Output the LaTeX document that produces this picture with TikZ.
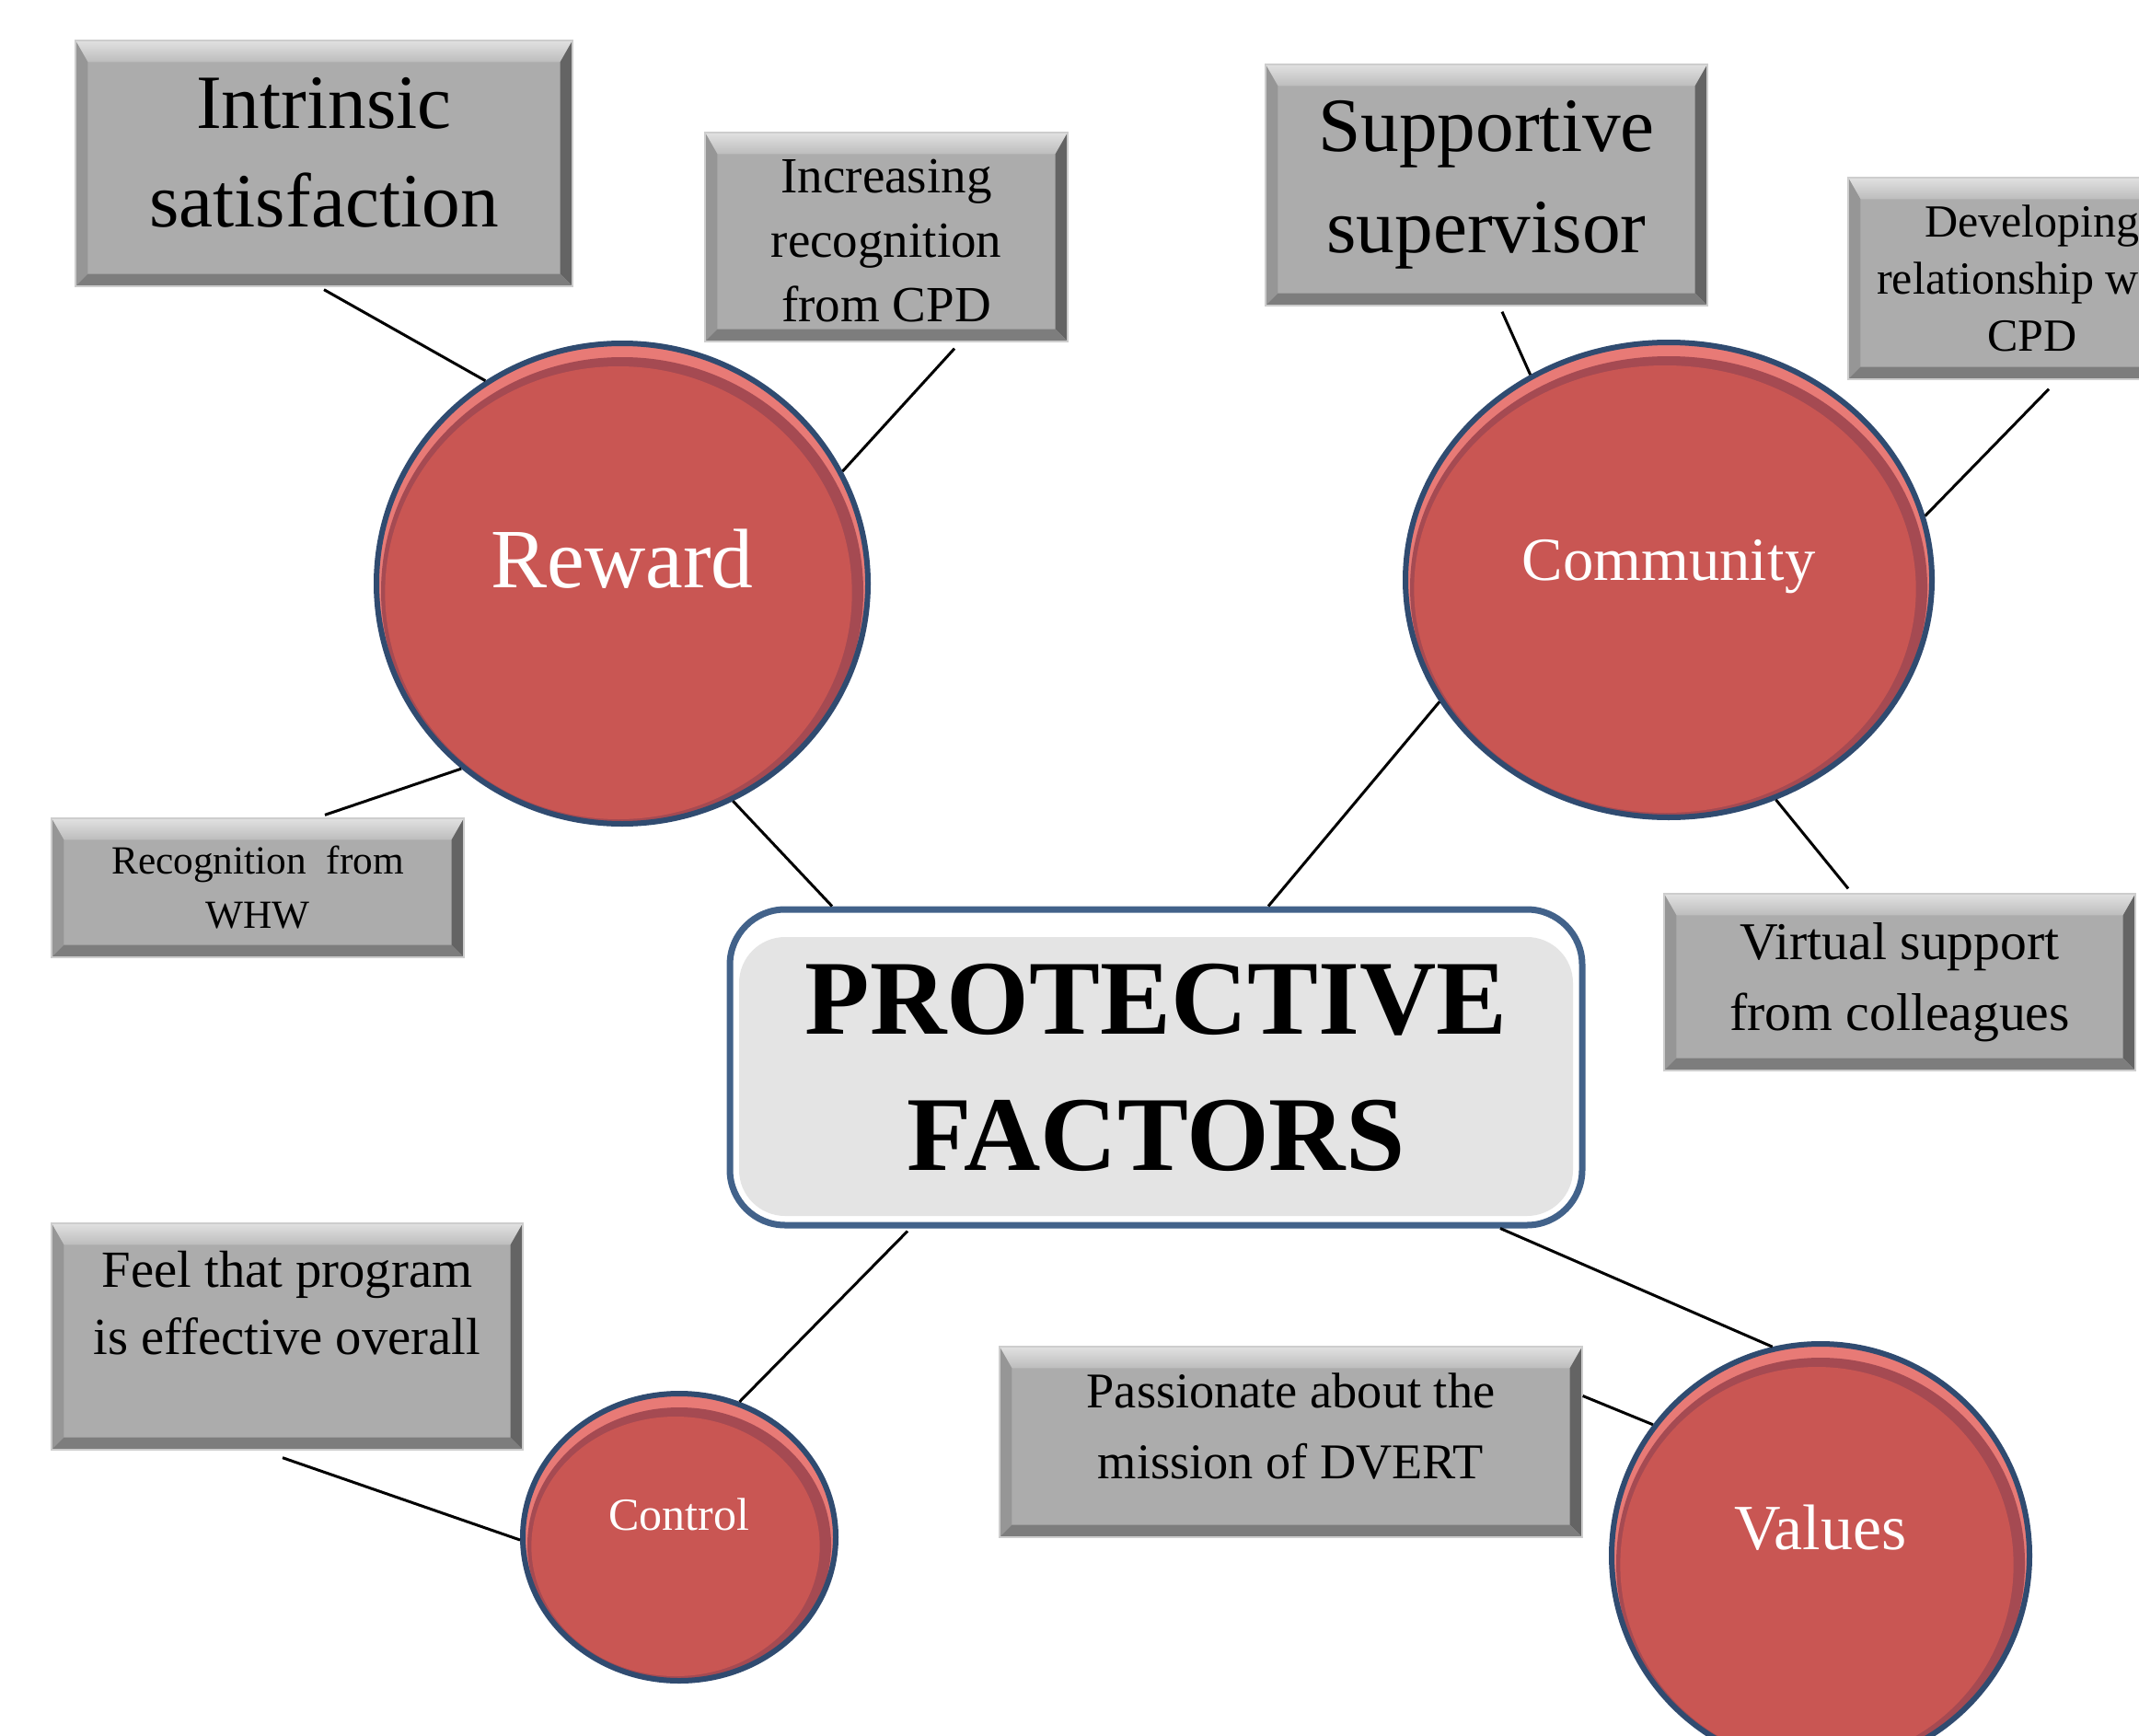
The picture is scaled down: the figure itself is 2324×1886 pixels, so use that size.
\documentclass[tikz,border=0pt]{standalone}
\usepackage{fontspec}
\setmainfont{Liberation Serif}
\usetikzlibrary{calc,shapes.geometric}

\definecolor{boxgray}{RGB}{172,172,172}
\definecolor{bevlight}{RGB}{225,225,225}
\definecolor{bevleft}{RGB}{150,150,150}
\definecolor{bevright}{RGB}{100,100,100}
\definecolor{bevbottom}{RGB}{125,125,125}
\definecolor{circred}{RGB}{201,86,83}
\definecolor{circhl}{RGB}{232,122,118}
\definecolor{circdark}{RGB}{165,74,82}
\definecolor{circedge}{RGB}{48,75,112}
\definecolor{pfedge}{RGB}{66,98,138}
\definecolor{pffill}{RGB}{228,228,228}

\tikzset{
  gbox/.style={rectangle, fill=boxgray, draw=boxgray!60, line width=0.4pt,
    inner sep=0pt, align=center, text=black,
    path picture={
      \path (path picture bounding box.north west) coordinate (bnw)
            (path picture bounding box.north east) coordinate (bne)
            (path picture bounding box.south west) coordinate (bsw)
            (path picture bounding box.south east) coordinate (bse);
      \shade[top color=bevlight, bottom color=boxgray!80!white]
        (bnw) -- (bne) -- ($(bne)+(-4pt,-7pt)$) -- ($(bnw)+(4pt,-7pt)$) -- cycle;
      \fill[bevleft] (bnw) -- ($(bnw)+(4pt,-7pt)$) -- ($(bsw)+(4pt,4pt)$) -- (bsw) -- cycle;
      \fill[bevright] (bne) -- ($(bne)+(-4pt,-7pt)$) -- ($(bse)+(-4pt,4pt)$) -- (bse) -- cycle;
      \fill[bevbottom] (bsw) -- ($(bsw)+(4pt,4pt)$) -- ($(bse)+(-4pt,4pt)$) -- (bse) -- cycle;
    }},
  circ/.style={ellipse, fill=circhl, draw=circedge, line width=1.8pt,
    inner sep=0pt,
    path picture={
      \fill[circdark] let \p1=(path picture bounding box.north east),
                \p2=(path picture bounding box.center) in
        ([yshift=-2.5pt]\x2,\y2) ellipse ({\x1-\x2-1.5pt} and {\y1-\y2-2pt});
      \fill[circred] let \p1=(path picture bounding box.north east),
                \p2=(path picture bounding box.center) in
        ([xshift=-1.2pt,yshift=-3pt]\x2,\y2) ellipse ({\x1-\x2-4pt} and {\y1-\y2-4.5pt});
    }},
  pfbox/.style={rectangle, rounded corners=18pt, fill=white, draw=pfedge,
    line width=2.1pt, inner sep=0pt, align=center,
    path picture={
      \fill[pffill, rounded corners=15pt]
        ([xshift=3pt,yshift=-9pt]path picture bounding box.north west) rectangle
        ([xshift=-3pt,yshift=3pt]path picture bounding box.south east);
    }},
  wlabel/.style={text=white, inner sep=0pt},
  blabel/.style={text=black, inner sep=0pt, align=center},
  conn/.style={draw=black, line width=0.9pt},
}

\begin{document}
\begin{tikzpicture}[x=0.3pt,y=-0.3pt]
\useasboundingbox (0,0) rectangle (2324,1886);
\clip (0,0) rectangle (2324,1886);
\fill[white] (0,0) rectangle (2324,1886);

% gray boxes
\node[gbox, minimum width=162pt, minimum height=80.1pt,
      label={[blabel, yshift=3.5pt, font=\fontsize{25}{32}\selectfont]center:{Intrinsic\\satisfaction}}]
      (intr) at (352,177.5) {};
\node[gbox, minimum width=118.2pt, minimum height=68.1pt,
      label={[blabel, yshift=-1.3pt, font=\fontsize{16.5}{21}\selectfont]center:{Increasing\\recognition\\from CPD}}]
      (incr) at (963,257.5) {};
\node[gbox, minimum width=134.4pt, minimum height=45.3pt,
      font=\fontsize{13}{17.7}\selectfont] (whw) at (280,964.5) {Recognition\ \ from\\WHW};
\node[gbox, minimum width=144pt, minimum height=78.6pt,
      font=\fontsize{25}{33}\selectfont] (supp) at (1615,201) {Supportive\\supervisor};
\node[gbox, minimum width=120pt, minimum height=65.7pt,
      font=\fontsize{15}{18.6}\selectfont] (devl) at (2208,302.5) {Developing\\relationship with\\CPD};
\node[gbox, minimum width=153.6pt, minimum height=57.6pt,
      font=\fontsize{17.3}{23}\selectfont] (virt) at (2064,1067) {Virtual support\\from colleagues};
\node[gbox, minimum width=153.6pt, minimum height=73.8pt,
      label={[blabel, yshift=11pt, font=\fontsize{17}{22}\selectfont]center:{Feel that program\\is effective overall}}]
      (feel) at (312,1452) {};
\node[gbox, minimum width=189.9pt, minimum height=62.1pt,
      label={[blabel, yshift=5pt, font=\fontsize{16.3}{23}\selectfont]center:{Passionate about the\\mission of DVERT}}]
      (pass) at (1402.5,1566.5) {};

% central box
\node[pfbox, minimum width=277.8pt, minimum height=102.9pt,
      font=\fontsize{34.6}{44.4}\selectfont\bfseries] (pf) at (1256,1159.5) {PROTECTIVE\\FACTORS};

% circles
\node[circ, minimum width=160.2pt, minimum height=156.6pt,
      label={[wlabel, yshift=8pt, font=\fontsize{27.5}{30}\selectfont]center:Reward}]
      (reward) at (676,634) {};
\node[circ, minimum width=171.6pt, minimum height=154.8pt,
      label={[wlabel, yshift=4.4pt, font=\fontsize{20}{24}\selectfont]center:Community}]
      (comm) at (1813,630) {};
\node[circ, minimum width=102pt, minimum height=93.6pt,
      label={[wlabel, yshift=7.5pt, font=\fontsize{15}{18}\selectfont]center:Control}]
      (ctrl) at (738,1670) {};
\node[circ, minimum width=136.2pt, minimum height=138pt,
      label={[wlabel, yshift=9pt, font=\fontsize{21}{25}\selectfont]center:Values}]
      (vals) at (1978,1690) {};

% connectors
\draw[conn] ($(intr.south)+(0,3)$) -- (reward.124);
\draw[conn] ($(incr.south)+(74,7)$) -- (reward.27);
\draw[conn] ($(whw.north)+(73,-3)$) -- (reward.229);
\draw[conn] (reward.297) -- ($(pf.north)+(-352,0)$);
\draw[conn] (comm.208) -- ($(pf.north)+(122,0)$);
\draw[conn] ($(supp.south)+(17,6)$) -- (comm.124);
\draw[conn] ($(devl.south)+(18,10)$) -- (comm.14);
\draw[conn] ($(virt.north)+(-56,-5)$) -- (comm.296);
\draw[conn] ($(pf.south)+(-270,3)$) -- (ctrl.66);
\draw[conn] ($(feel.south)+(-5,8)$) -- (ctrl.181);
\draw[conn] ($(pf.south)+(374,0)$) -- (vals.103);
\draw[conn] ($(pass.east)+(0,-50)$) -- (vals.142);
\end{tikzpicture}
\end{document}
